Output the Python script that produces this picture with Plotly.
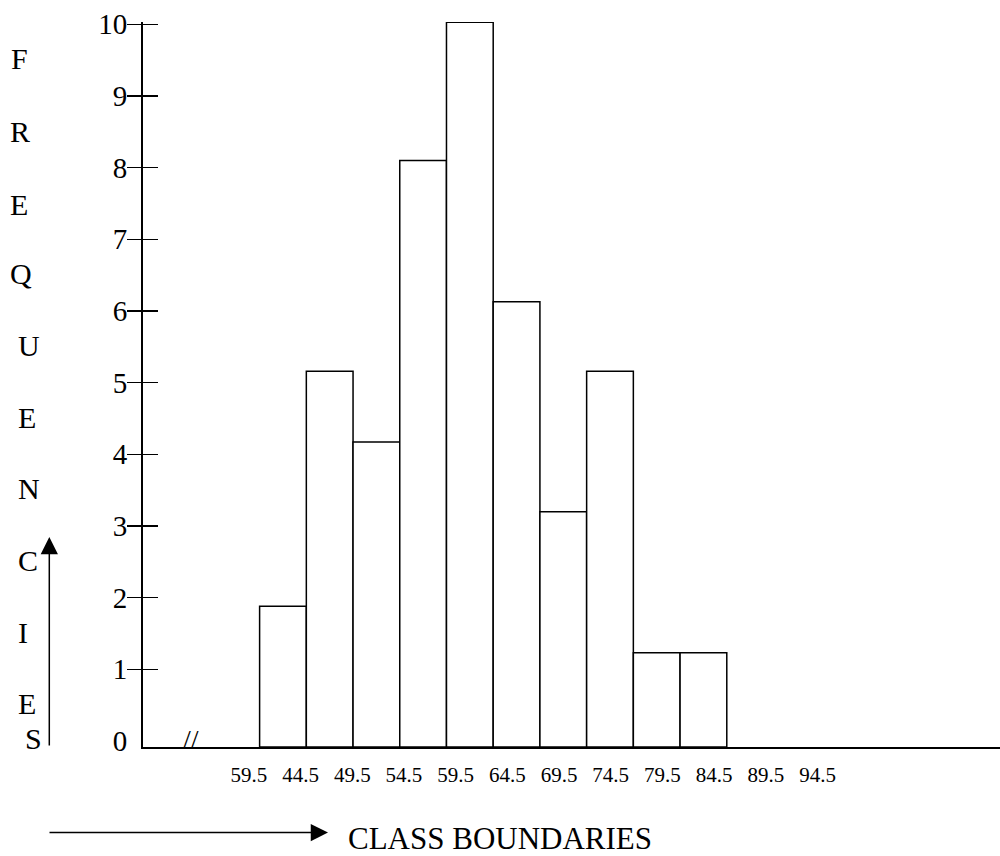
import plotly.graph_objects as go

# ---------------- data ----------------
CLASS_LOWER = [39.5, 44.5, 49.5, 54.5, 59.5, 64.5, 69.5, 74.5, 79.5, 84.5]
CLASS_WIDTH = 5
FREQ = [1.88, 5.16, 4.17, 8.1, 10.03, 6.13, 3.2, 5.16, 1.23, 1.23]
X_TICK_VALUES = [39.5, 44.5, 49.5, 54.5, 59.5, 64.5, 69.5, 74.5, 79.5, 84.5, 89.5, 94.5]
X_TICK_LABELS = ["59.5", "44.5", "49.5", "54.5", "59.5", "64.5", "69.5", "74.5",
                 "79.5", "84.5", "89.5", "94.5"]
Y_TICK_VALUES = [0, 1, 2, 3, 4, 5, 6, 7, 8, 9, 10]
Y_MARK_VALUES = [1, 2, 3, 4, 5, 6, 7, 8, 9, 10]
Y_LETTERS = ["F", "R", "E", "Q", "U", "E", "N", "C", "I", "E", "S"]
X_TITLE = "CLASS BOUNDARIES"

# ---------------- layout constants ----------------
W, H = 1000, 856
L, R, T, B = 143, 0, 22, 109
PW, PH = W - L - R, H - T - B
YMIN, YMAX = -0.084, 10.032
XMIN, XMAX = 27.02, 118.74
X2MIN, X2MAX = 29.26, 112.15
FONT = "Liberation Serif"


def px(xp):
    return (xp - L) / PW


def py(yp):
    return (H - B - yp) / PH


# letter positions (pixel) for the vertical "FREQUENCIES" label
LETTER_X = [19, 20, 19, 21, 29, 27, 29, 28, 23, 27, 34]
LETTER_Y = [58, 132, 204, 273, 345, 417, 488, 560, 632, 703, 738]

fig = go.Figure()
fig.add_trace(go.Bar(
    x=CLASS_LOWER,
    y=[f - YMIN for f in FREQ],
    base=YMIN,
    width=CLASS_WIDTH,
    offset=0,
    marker=dict(color="white", line=dict(color="black", width=1.5)),
    hoverinfo="skip",
    showlegend=False,
))

annotations = []
for ch, lx, ly in zip(Y_LETTERS, LETTER_X, LETTER_Y):
    annotations.append(dict(
        text=ch, xref="paper", yref="paper", x=px(lx), y=py(ly),
        xanchor="center", yanchor="middle", showarrow=False,
        font=dict(family=FONT, size=30, color="black"),
    ))

# vertical arrow next to the letters
annotations.append(dict(
    text="", xref="paper", yref="paper", x=px(49.3), y=py(537),
    ax=0, ay=210, axref="pixel", ayref="pixel",
    showarrow=True, arrowhead=2, arrowsize=2.3, arrowwidth=1.5, arrowcolor="black",
))
# horizontal arrow before the x title
annotations.append(dict(
    text="", xref="paper", yref="paper", x=px(328), y=py(832.5),
    ax=-280, ay=0, axref="pixel", ayref="pixel",
    showarrow=True, arrowhead=2, arrowsize=2.3, arrowwidth=1.5, arrowcolor="black",
))
# x title
annotations.append(dict(
    text=X_TITLE, xref="paper", yref="paper", x=px(346), y=py(839),
    xanchor="left", yanchor="middle", showarrow=False,
    font=dict(family=FONT, size=31, color="black"),
))
# axis break mark
annotations.append(dict(
    text="//", xref="paper", yref="paper", x=px(191), y=py(739),
    xanchor="center", yanchor="middle", showarrow=False,
    font=dict(family=FONT, size=28, color="black"),
))

fig.update_layout(
    width=W, height=H,
    margin=dict(l=L, r=R, t=T, b=B, pad=0),
    paper_bgcolor="white", plot_bgcolor="white",
    bargap=0,
    annotations=annotations,
    xaxis=dict(
        range=[XMIN, XMAX], showgrid=False, zeroline=False,
        showline=True, linecolor="black", linewidth=2,
        showticklabels=False, ticks="", fixedrange=True,
    ),
    xaxis2=dict(
        overlaying="x", anchor="y", side="bottom",
        range=[X2MIN, X2MAX], showgrid=False, zeroline=False, showline=False,
        tickmode="array", tickvals=X_TICK_VALUES, ticktext=X_TICK_LABELS,
        ticks="outside", ticklen=9, tickcolor="rgba(0,0,0,0)",
        tickfont=dict(family=FONT, size=21, color="black"), fixedrange=True,
    ),
    yaxis=dict(
        range=[YMIN, YMAX], showgrid=False, zeroline=False,
        showline=True, linecolor="black", linewidth=2,
        tickmode="array", tickvals=Y_TICK_VALUES, ticktext=[str(v) for v in Y_TICK_VALUES],
        ticks="outside", ticklen=8, tickcolor="rgba(0,0,0,0)",
        tickfont=dict(family=FONT, size=29, color="black"), fixedrange=True,
    ),
    yaxis2=dict(
        overlaying="y", anchor="x", side="left",
        range=[YMIN, YMAX], showgrid=False, zeroline=False, showline=False,
        tickmode="array", tickvals=Y_MARK_VALUES, showticklabels=False,
        ticks="outside", ticklen=15, tickwidth=1.3, tickcolor="black", fixedrange=True,
    ),
    yaxis3=dict(
        overlaying="y", anchor="x", side="left",
        range=[YMIN, YMAX], showgrid=False, zeroline=False, showline=False,
        tickmode="array", tickvals=Y_MARK_VALUES, showticklabels=False,
        ticks="inside", ticklen=15, tickwidth=1.3, tickcolor="black", fixedrange=True,
    ),
)

# empty helper traces so the overlay axes are registered
fig.add_trace(go.Scatter(x=[], y=[], xaxis="x2", yaxis="y", showlegend=False, hoverinfo="skip"))
fig.add_trace(go.Scatter(x=[], y=[], xaxis="x", yaxis="y2", showlegend=False, hoverinfo="skip"))
fig.add_trace(go.Scatter(x=[], y=[], xaxis="x", yaxis="y3", showlegend=False, hoverinfo="skip"))

fig.write_html(
    "out.html",
    config={"displayModeBar": False, "staticPlot": True},
    post_script="document.body.style.margin='0';document.body.style.overflow='hidden';",
)
